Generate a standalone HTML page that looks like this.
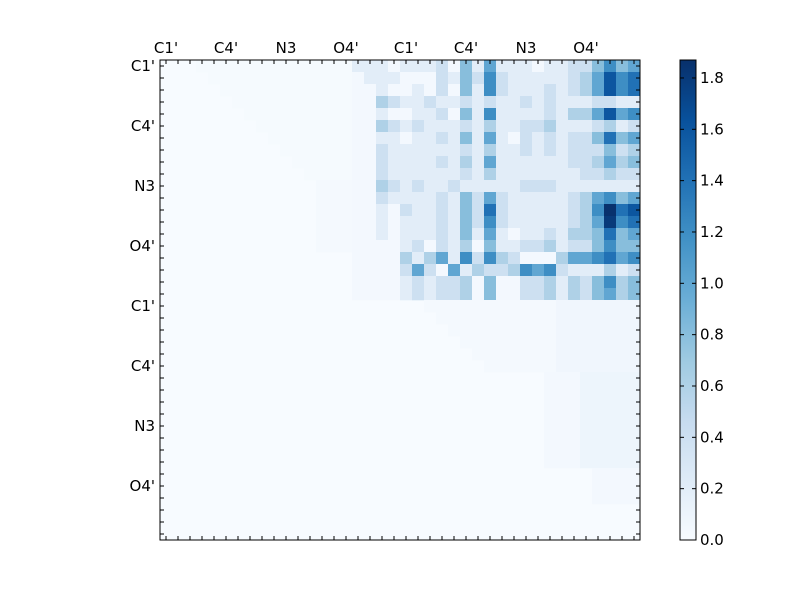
<!DOCTYPE html>
<html><head><meta charset="utf-8"><style>
html,body{margin:0;padding:0;background:#fff;width:800px;height:600px;overflow:hidden}
text{font-family:"DejaVu Sans","Liberation Sans",sans-serif;font-size:15px;fill:#000}
</style></head><body>
<svg id="s" width="800" height="600" xmlns="http://www.w3.org/2000/svg">
<defs><linearGradient id="cb" x1="0" y1="1" x2="0" y2="0">
<stop offset="0" stop-color="#f7fbff"/><stop offset="0.125" stop-color="#deebf7"/><stop offset="0.25" stop-color="#c6dbef"/><stop offset="0.375" stop-color="#9ecae1"/><stop offset="0.5" stop-color="#6baed6"/><stop offset="0.625" stop-color="#4292c6"/><stop offset="0.75" stop-color="#2171b5"/><stop offset="0.875" stop-color="#08519c"/><stop offset="1" stop-color="#08306b"/>
</linearGradient></defs>
<g id="cells"></g>
<rect x="160" y="60" width="480" height="480" fill="none" stroke="#000" stroke-width="1"/>
<g id="ticks" stroke="#000" stroke-width="1"></g>
<g id="labels"></g>
<rect x="680" y="60" width="16" height="480" fill="url(#cb)" stroke="#000" stroke-width="1"/>
<g id="cbt"></g>
</svg>
<script>
var R={
0:{16:1,17:1,18:1,20:1,21:1,22:1,23:2,25:4,26:1,27:5,28:1,29:1,30:1,32:1,33:1,34:2,35:2,36:4,37:6,38:4,39:5},
1:{17:1,18:1,19:1,23:2,24:1,25:4,26:2,27:6,28:2,29:1,30:1,31:1,32:1,33:1,34:2,35:3,36:5,37:8,38:6,39:7},
2:{18:1,21:1,23:2,25:4,26:1,27:6,28:2,29:1,30:1,31:1,32:2,33:1,34:2,35:3,36:5,37:8,38:6,39:7},
3:{18:3,19:2,20:1,21:1,22:2,23:1,24:1,25:2,26:1,27:2,28:1,29:1,30:2,31:1,32:2,33:1,34:1,35:1,36:2,37:2,38:1,39:1},
4:{18:1,21:1,22:1,23:2,25:4,26:1,27:6,28:1,29:1,30:1,31:1,32:2,33:1,34:3,35:3,36:5,37:8,38:5,39:6},
5:{18:3,19:2,20:1,21:2,22:1,23:1,24:1,25:2,26:1,27:3,28:1,29:1,30:2,31:2,32:3,33:1,34:1,35:1,36:2,37:3,38:1,39:2},
6:{18:1,19:1,21:1,22:1,23:2,24:1,25:4,26:1,27:5,28:1,30:2,31:1,32:2,33:1,34:2,35:2,36:4,37:7,38:4,39:5},
7:{18:2,19:1,20:1,21:1,22:1,23:1,24:1,25:2,26:1,27:3,28:1,29:1,30:2,31:1,32:2,33:1,34:2,35:2,36:2,37:4,38:2,39:3},
8:{18:2,19:1,20:1,21:1,22:1,23:2,24:1,25:3,26:1,27:5,28:1,29:1,30:1,31:1,32:1,33:1,34:2,35:2,36:3,37:5,38:3,39:4},
9:{18:2,19:1,20:1,21:1,22:1,23:1,24:1,25:2,26:1,27:3,28:1,29:1,30:1,31:1,32:1,33:1,34:1,35:2,36:2,37:3,38:2,39:2},
10:{18:3,19:2,20:1,21:2,22:1,23:1,24:2,25:1,26:1,27:1,28:1,29:1,30:2,31:2,32:2,33:1,34:1,35:1,36:1,37:1,38:1,39:1},
11:{18:2,19:1,20:1,21:1,22:1,23:2,24:1,25:4,26:2,27:5,28:2,29:1,30:1,31:1,32:1,33:1,34:2,35:3,36:5,37:6,38:4,39:5},
12:{18:1,20:2,21:1,22:1,23:2,24:1,25:4,26:2,27:7,28:2,29:1,30:1,31:1,32:1,33:1,34:2,35:3,36:6,37:9.3,38:7,39:8},
13:{18:1,20:1,21:1,22:1,23:2,24:1,25:4,26:2,27:6,28:2,29:1,30:1,31:1,32:1,33:1,34:2,35:3,36:5,37:9,38:6,39:7},
14:{18:1,20:1,21:1,22:1,23:2,24:1,25:4,26:1,27:5,28:1,30:1,31:1,32:2,33:1,34:3,35:3,36:4,37:7,38:4,39:5},
15:{20:1,21:2,23:2,24:1,25:3,27:4,28:1,29:1,30:2,31:2,32:3,33:1,34:2,35:2,36:4,37:6,38:4,39:4},
16:{20:3,21:1,22:3,23:5,24:1,25:6,26:2,27:6,28:3,29:2,33:3,34:5,35:5,36:6,37:7,38:5,39:6},
17:{20:2,21:5,22:2,24:5,25:1,26:3,27:2,28:2,29:3,30:6,31:5,32:6,33:2,34:1,35:1,36:1,37:3,38:1,39:2},
18:{20:1,21:2,22:1,23:2,24:2,25:3,27:4,30:2,31:2,32:3,33:1,34:3,35:2,36:4,37:6,38:3,39:4},
19:{20:1,21:2,22:1,23:2,24:2,25:3,27:4,30:2,31:2,32:3,33:1,34:3,35:2,36:4,37:5,38:3,39:4}
};
var cols=["#f7fbff","#deebf7","#c6dbef","#9ecae1","#6baed6","#4292c6","#2171b5","#08519c","#08306b"];
function hex(h){return [parseInt(h.substr(1,2),16),parseInt(h.substr(3,2),16),parseInt(h.substr(5,2),16)];}
function cmap(t){t=Math.max(0,Math.min(1,t));var p=t*8,i=Math.min(7,Math.floor(p)),f=p-i;var a=hex(cols[i]),b=hex(cols[i+1]);
return "rgb("+a.map(function(v,k){return Math.round(v+(b[k]-v)*f)}).join(",")+")";}
var g="",vmax=1.87;
g+='<rect x="160" y="60" width="480" height="480" fill="#f7fbff"/>';
for(var r=0;r<40;r++)for(var c=0;c<40;c++){
 var v=0;
 if(R[r]&&R[r][c]!==undefined)v=R[r][c]*0.2;
 else if(r<20&&c>=16&&c<=39)v=0.04;
 else if(r<10&&c>=3&&c<16&&c>r+2)v=0.02;
 else if(r<20&&c>=13&&c<16&&r<16)v=0.03;
 else if(r>=20&&r<26&&c>=r+2)v=(c>=33?0.07:0.025);
 else if(r>=26&&r<34&&c>=32)v=(c>=35?0.09:0.04);
 else if(r>=34&&r<37&&c>=36)v=0.04;
 if(v>0)g+='<rect x="'+(160+c*12)+'" y="'+(60+r*12)+'" width="12.3" height="12.3" fill="'+cmap(v/vmax)+'"/>';
}
document.getElementById("cells").innerHTML=g;
var t="";
for(var i=0;i<40;i++){var p=166+i*12;
 t+='<line x1="'+p+'" y1="60" x2="'+p+'" y2="64"/><line x1="'+p+'" y1="540" x2="'+p+'" y2="536"/>';
 t+='<line x1="160" y1="'+(p-100)+'" x2="164" y2="'+(p-100)+'"/><line x1="640" y1="'+(p-100)+'" x2="636" y2="'+(p-100)+'"/>';}
document.getElementById("ticks").innerHTML=t;
var L=["C1'","C4'","N3","O4'","C1'","C4'","N3","O4'"],l="";
for(var i=0;i<8;i++){var p=166+i*60;
 l+='<text x="'+p+'" y="53" text-anchor="middle">'+L[i]+'</text>';
 l+='<text x="155" y="'+(p-100+5)+'" text-anchor="end">'+L[i]+'</text>';}
document.getElementById("labels").innerHTML=l;
var cb="";
for(var v=0;v<=1.81;v+=0.2){var y=540-v/vmax*480;
 cb+='<line x1="680" y1="'+y+'" x2="684" y2="'+y+'" stroke="#000"/><line x1="696" y1="'+y+'" x2="692" y2="'+y+'" stroke="#000"/>';
 cb+='<text x="700" y="'+(y+5)+'">'+v.toFixed(1)+'</text>';}
document.getElementById("cbt").innerHTML=cb;
</script>
</body></html>
